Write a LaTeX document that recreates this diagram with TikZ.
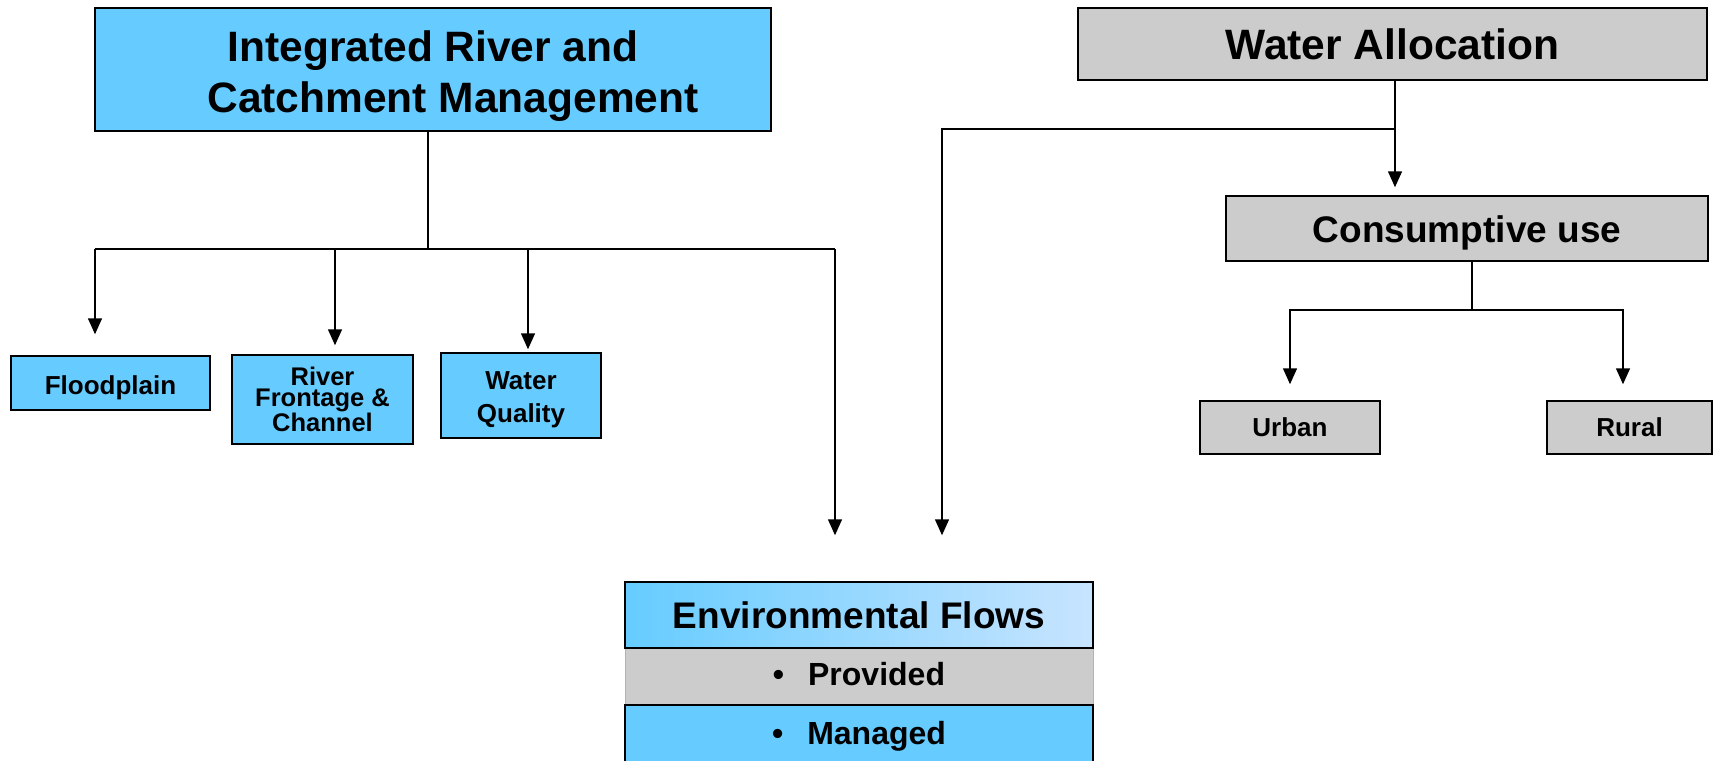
\documentclass[tikz,border=0pt]{standalone}
\usepackage{fontspec}
\setmainfont{Liberation Sans}
\usetikzlibrary{positioning,arrows.meta}
\definecolor{skyblue}{RGB}{102,204,255}
\definecolor{lightsky}{RGB}{200,228,255}
\definecolor{boxgray}{RGB}{204,204,204}

\newcommand{\boxfont}[2]{\fontsize{#1}{#2}\selectfont\bfseries}

\begin{document}
\begin{tikzpicture}[x=1pt,y=-1pt,
		box/.style={draw, line width=1.5pt, inner sep=0pt, align=center},
		bluebox/.style={box, fill=skyblue},
		graybox/.style={box, fill=boxgray},
		link/.style={line width=1.5pt},
		arr/.style={link, -{Triangle[length=16pt,width=14pt]}}
		]
		\useasboundingbox (0,0) rectangle (1713,761);
		% main boxes
		\node[bluebox, minimum width=676pt, minimum height=123pt, font=\boxfont{42.5}{51}] (ircm) at (433,69.5) {\rule{0pt}{44pt}Integrated River and\\\hspace*{40pt}Catchment Management};
		\node[graybox, minimum width=629pt, minimum height=72pt, font=\boxfont{42.5}{50}] (alloc) at (1392.5,44) {Water Allocation};
		\node[graybox, minimum width=482pt, minimum height=65pt, font=\boxfont{37}{44}] (cons) at (1467,228.5) {\rule{0pt}{36pt}Consumptive use};
		% sub boxes
		\node[bluebox, minimum width=199pt, minimum height=54pt, font=\boxfont{26}{31}] (flood) at (110.5,383) {\rule{0pt}{28pt}Floodplain};
		\node[bluebox, minimum width=181pt, minimum height=89pt, font=\boxfont{25.5}{21.5}] (river) at (322.5,399.5) {River\\Frontage \&\\Channel};
		\node[bluebox, minimum width=160pt, minimum height=85pt, font=\boxfont{26}{33}] (quality) at (521,395.5) {\rule{0pt}{27pt}Water\\Quality};
		\node[graybox, minimum width=180pt, minimum height=53pt, font=\boxfont{26}{31}] (urban) at (1290,427.5) {Urban};
		\node[graybox, minimum width=165pt, minimum height=53pt, font=\boxfont{26}{31}] (rural) at (1629.5,427.5) {Rural};
		% environmental flows
		\node[fill=boxgray, draw=skyblue, line width=0.8pt, inner sep=0pt, minimum width=468pt, minimum height=57pt, font=\boxfont{32}{38}] (prov) at (859,676.5) {\textbullet\hspace{24pt}Provided\rule[-4.5pt]{0pt}{1pt}};
		\node[box, left color=skyblue, right color=lightsky, minimum width=468pt, minimum height=66pt, font=\boxfont{37}{44}] (env) at (859,615) {Environmental Flows};
		\node[fill=skyblue, inner sep=0pt, minimum width=468pt, minimum height=56pt, font=\boxfont{32}{38}] (mgd) at (859,733) {\rule{0pt}{30pt}\textbullet\hspace{24pt}Managed};
		\draw[link] (mgd.south west) |- (mgd.north east) -- (mgd.south east);
		% connectors
		\coordinate (ircmj) at (428,249);
		\coordinate (barL) at (95,249);
		\coordinate (barR) at (835,249);
		\coordinate (riverx) at (335,249);
		\coordinate (qualx) at (528,249);
		\draw[link] (ircm.south -| ircmj) -- (ircmj);
		\draw[link] (barL) -- (barR);
		\draw[arr, shorten >=21pt] (barL) -- (flood.north -| barL);
		\draw[arr, shorten >=9pt] (riverx) -- (river.north -| riverx);
		\draw[arr, shorten >=3pt] (qualx) -- (quality.north -| qualx);
		\draw[arr, shorten >=46pt] (barR) -- (env.north -| barR);
		\coordinate (allocj) at (1395,129);
		\coordinate (envx) at (942,129);
		\draw[arr, shorten >=8pt] (alloc.south -| allocj) -- (cons.north -| allocj);
		\draw[arr, shorten >=46pt] (allocj) -| (env.north -| envx);
		\coordinate (consj) at (1472,310);
		\coordinate (ruralx) at (1623,310);
		\draw[link] (cons.south -| consj) -- (consj);
		\draw[arr, shorten >=16pt] (consj) -| (urban.north);
		\draw[arr, shorten >=16pt] (consj) -| (rural.north -| ruralx);
	\end{tikzpicture}
\end{document}
